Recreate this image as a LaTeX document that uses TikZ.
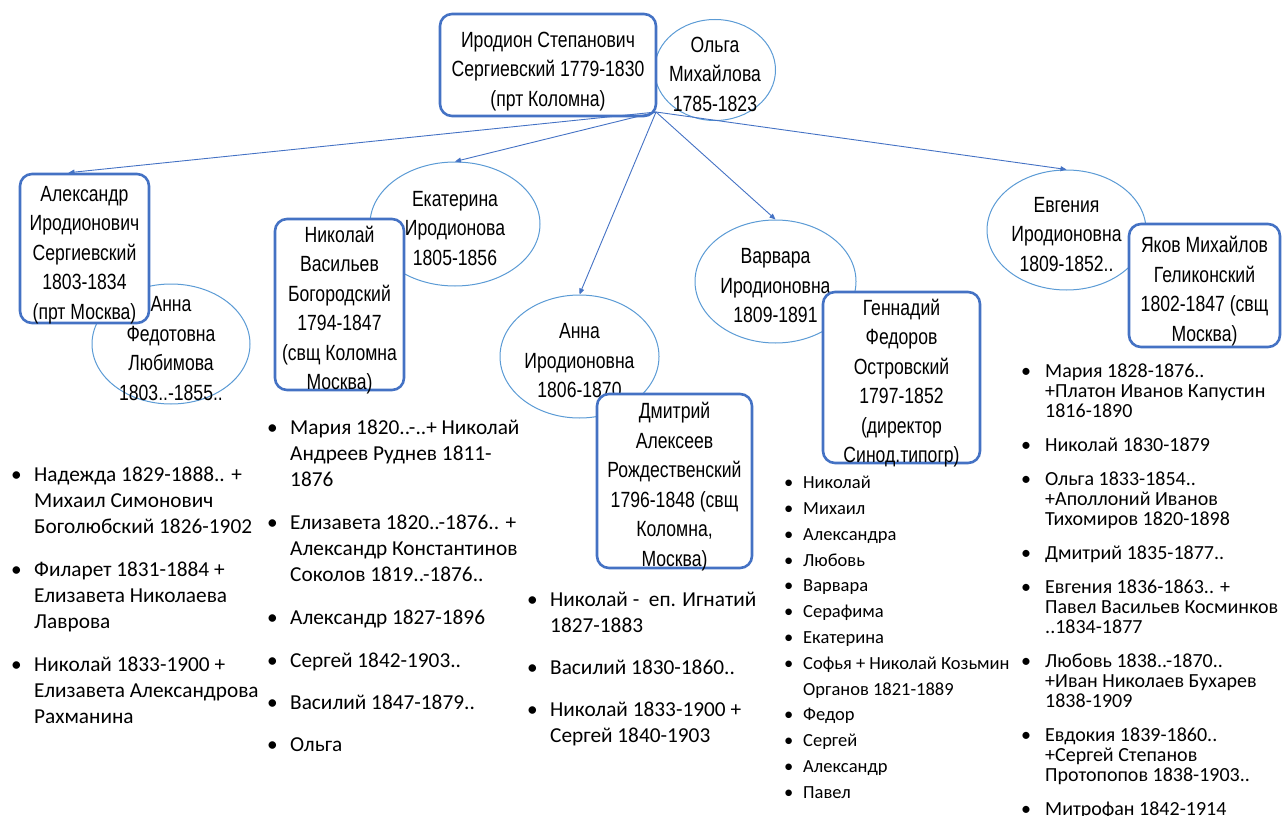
\documentclass[tikz,border=0pt]{standalone}
\usepackage{fontspec}
\setmainfont{Liberation Sans}
\newfontfamily\boxfont[FakeStretch=0.8]{Liberation Sans}
\newfontfamily\listfont{Carlito}
\usetikzlibrary{positioning,shapes.geometric,arrows.meta}
\definecolor{boxblue}{HTML}{4472C4}
\definecolor{ovalblue}{HTML}{5B9BD5}
\newlength{\bulw}
\newcommand{\bitem}{\makebox[\bulw][l]{\textbullet}}
\newcommand{\bcont}{\hspace*{\bulw}}
\newcommand{\boxlift}{\rule{0pt}{28pt}}
\newcommand{\ovallift}{\rule{0pt}{24pt}}
\tikzset{
  person/.style={draw=boxblue, line width=2.6pt, rounded corners=12pt, fill=white,
    align=center, inner sep=-8pt, font=\boxfont\fontsize{22}{29.5}\selectfont},
  spouse/.style={ellipse, draw=ovalblue, line width=1pt, fill=white,
    align=center, inner sep=-20pt, font=\boxfont\fontsize{22}{29.5}\selectfont},
  kids/.style={anchor=north west, align=left, inner sep=0pt,
    font=\listfont\fontsize{21.3}{26}\selectfont\setlength{\bulw}{23pt}},
  smallkids/.style={anchor=north west, align=left, inner sep=0pt,
    font=\listfont\fontsize{18.5}{25.8}\selectfont\setlength{\bulw}{19pt}},
  tinykids/.style={anchor=north west, align=left, inner sep=0pt,
    font=\listfont\fontsize{20}{20}\selectfont\setlength{\bulw}{24pt}},
  child/.style={-{Triangle[length=6pt,width=5pt]}, draw=boxblue, line width=0.9pt}
}
\begin{document}
\begin{tikzpicture}[x=1pt,y=-1pt]
\useasboundingbox (0,0) rectangle (1282,816);
\node[spouse, minimum width=121pt, minimum height=101pt] (olga) at (715,70) {\ovallift Ольга\\Михайлова\\1785-1823};
\node[person, minimum width=216pt, minimum height=102pt] (irodion) at (548,65) {\boxlift Иродион Степанович\\Сергиевский 1779-1830\\(прт Коломна)};
\coordinate (src) at (656,112);

\node[spouse, minimum width=158pt, minimum height=120pt] (annaf) at (171,344) {\ovallift Анна\\Федотовна\\Любимова\\1803..-1855..};
\node[person, minimum width=129pt, minimum height=149pt] (alex) at (84.5,248.5) {\boxlift Александр\\Иродионович\\Сергиевский\\1803-1834\\(прт Москва)};

\node[spouse, minimum width=170pt, minimum height=124pt] (ekat) at (455,224) {\ovallift Екатерина\\Иродионова\\1805-1856};
\node[person, minimum width=129pt, minimum height=171pt] (nikolai) at (339.5,304.5) {\boxlift Николай\\Васильев\\Богородский\\1794-1847\\(свщ Коломна\\Москва)};

\node[spouse, minimum width=159pt, minimum height=123pt] (annai) at (579.5,356.5) {\ovallift Анна\\Иродионовна\\1806-1870};
\node[person, minimum width=155pt, minimum height=174pt] (dmitry) at (674.5,481) {\boxlift Дмитрий\\Алексеев\\Рождественский\\1796-1848 (свщ\\Коломна,\\Москва)};

\node[spouse, minimum width=161pt, minimum height=123pt] (varvara) at (775.5,281.5) {\ovallift Варвара\\Иродионовна\\1809-1891};
\node[person, minimum width=157pt, minimum height=171pt] (gennady) at (901.5,377.5) {\boxlift Геннадий\\Федоров\\Островский\\1797-1852\\(директор\\Синод.типогр)};

\node[spouse, minimum width=159pt, minimum height=120pt] (evgenia) at (1066.5,230) {\ovallift Евгения\\Иродионовна\\1809-1852..};
\node[person, minimum width=151pt, minimum height=123pt] (yakov) at (1204.5,285.5) {\boxlift Яков Михайлов\\Геликонский\\1802-1847 (свщ\\Москва)};

\draw[child] (src) -- ([xshift=-16pt]alex.north);
\draw[child] (src) -- (ekat.north);
\draw[child] (src) -- (annai.north);
\draw[child] (src) -- (varvara.north);
\draw[child] (src) -- (evgenia.north);

\node[kids] (alexkids) at (11,467) {\bitem Надежда 1829-1888.. +\\ \bcont Михаил Симонович\\ \bcont Боголюбский 1826-1902\\[17pt]
  \bitem Филарет 1831-1884 +\\ \bcont Елизавета Николаева\\ \bcont Лаврова\\[17pt]
  \bitem Николай 1833-1900 +\\ \bcont Елизавета Александрова\\ \bcont Рахманина};
\node[kids] (nikolaikids) at (267,420) {\bitem Мария 1820..-..+ Николай\\ \bcont Андреев Руднев 1811-\\ \bcont 1876\\[17pt]
  \bitem Елизавета 1820..-1876.. +\\ \bcont Александр Константинов\\ \bcont Соколов 1819..-1876..\\[17pt]
  \bitem Александр 1827-1896\\[17pt]
  \bitem Сергей 1842-1903..\\[16pt]
  \bitem Василий 1847-1879..\\[16pt]
  \bitem Ольга};
\node[kids] (dmitrykids) at (527,592) {\bitem Николай -\ \ еп. Игнатий\\ \bcont 1827-1883\\[16pt]
  \bitem Василий 1830-1860..\\[16pt]
  \bitem Николай 1833-1900 +\\ \bcont Сергей 1840-1903};
\node[smallkids] (gennadykids) at (784,476) {\bitem Николай\\ \bitem Михаил\\ \bitem Александра\\ \bitem Любовь\\ \bitem Варвара\\
  \bitem Серафима\\ \bitem Екатерина\\ \bitem Софья + Николай Козьмин\\ \bcont Органов 1821-1889\\ \bitem Федор\\
  \bitem Сергей\\ \bitem Александр\\ \bitem Павел};
\node[tinykids] (yakovkids) at (1021,364) {\bitem Мария 1828-1876..\\ \bcont +Платон Иванов Капустин\\ \bcont 1816-1890\\[14pt]
  \bitem Николай 1830-1879\\[14pt]
  \bitem Ольга 1833-1854..\\ \bcont +Аполлоний Иванов\\ \bcont Тихомиров 1820-1898\\[14pt]
  \bitem Дмитрий 1835-1877..\\[14pt]
  \bitem Евгения 1836-1863.. +\\ \bcont Павел Васильев Косминков\\ \bcont ..1834-1877\\[14pt]
  \bitem Любовь 1838..-1870..\\ \bcont +Иван Николаев Бухарев\\ \bcont 1838-1909\\[14pt]
  \bitem Евдокия 1839-1860..\\ \bcont +Сергей Степанов\\ \bcont Протопопов 1838-1903..\\[14pt]
  \bitem Митрофан 1842-1914};
\end{tikzpicture}
\end{document}
